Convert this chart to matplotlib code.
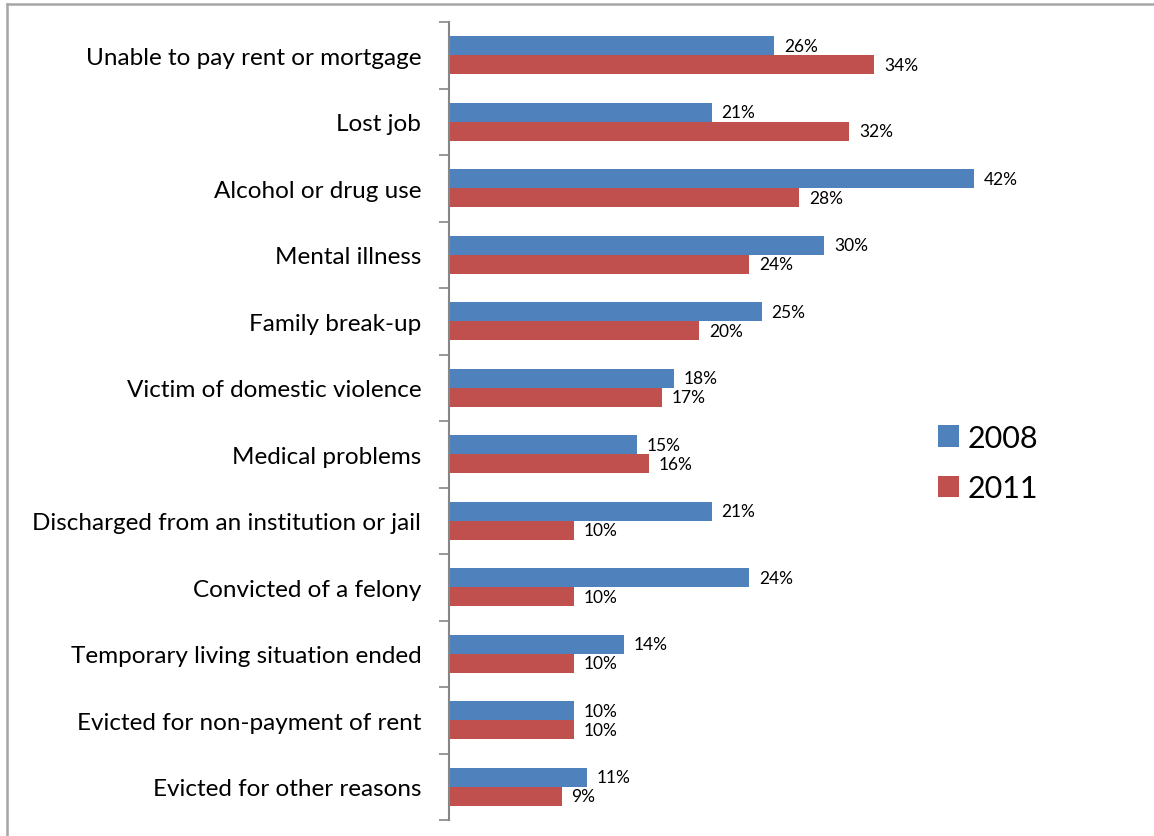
import numpy as np
import matplotlib.pyplot as plt
from matplotlib.lines import Line2D

plt.rcParams['font.family'] = ['Lato', 'DejaVu Sans']

# ------------------------------------------------------------
# DATA (percent of respondents)
# ------------------------------------------------------------

reasons = [
    "Unable to pay rent or mortgage",
    "Lost job",
    "Alcohol or drug use",
    "Mental illness",
    "Family break-up",
    "Victim of domestic violence",
    "Medical problems",
    "Discharged from an institution or jail",
    "Convicted of a felony",
    "Temporary living situation ended",
    "Evicted for non-payment of rent",
    "Evicted for other reasons",
]

pct_2008 = [26, 21, 42, 30, 25, 18, 15, 21, 24, 14, 10, 11]
pct_2011 = [34, 32, 28, 24, 20, 17, 16, 10, 10, 10, 10, 9]

blue = "#4F81BD"
red = "#C0504D"

# ------------------------------------------------------------
# FIGURE
# ------------------------------------------------------------

W, H = 1154, 837
fig = plt.figure(figsize=(W / 100, H / 100), dpi=100)

# axes placed in pixel terms: left edge at x=449, rows from y=23 to y=821
x0, x1 = 449, 1012
y_top, y_bot = 23, 821
ax = fig.add_axes([x0 / W, (H - y_bot) / H, (x1 - x0) / W, (y_bot - y_top) / H])

n = len(reasons)
pos = np.arange(n)
bh = 0.285

ax.barh(pos - bh / 2, pct_2008, height=bh, color=blue, label="2008")
ax.barh(pos + bh / 2, pct_2011, height=bh, color=red, label="2011")

# value labels just right of each bar
for i in range(n):
    ax.annotate(f"{pct_2008[i]}%", (pct_2008[i], pos[i] - bh / 2),
                xytext=(10, 0), textcoords="offset pixels",
                va="center", ha="left", fontsize=12.5)
    ax.annotate(f"{pct_2011[i]}%", (pct_2011[i], pos[i] + bh / 2),
                xytext=(10, 0), textcoords="offset pixels",
                va="center", ha="left", fontsize=12.5)

ax.set_xlim(0, (x1 - x0) / 12.5)
ax.set_ylim(n - 0.5, -0.5)

ax.set_yticks(pos)
ax.set_yticklabels(reasons, fontsize=17.5)
ax.set_yticks(np.arange(n + 1) - 0.5, minor=True)
ax.tick_params(axis="y", which="major", length=0, pad=20)
ax.tick_params(axis="y", which="minor", length=7, width=1.2, color="#868686")
ax.set_xticks([])

for side in ["top", "right", "bottom"]:
    ax.spines[side].set_visible(False)
ax.spines["left"].set_color("#868686")
ax.spines["left"].set_linewidth(1.5)

# legend
leg = fig.legend(loc="center left", bbox_to_anchor=(910 / W, 1 - 464 / H),
                 frameon=False, fontsize=22, handlelength=0.7, handleheight=0.7,
                 handletextpad=0.3, labelspacing=0.75)

# outer frame (top and left edges only)
fig.add_artist(Line2D([7 / W, 1], [1 - 5 / H, 1 - 5 / H], color="#A6A6A6", lw=1.8,
                      transform=fig.transFigure))
fig.add_artist(Line2D([7 / W, 7 / W], [0, 1 - 5 / H], color="#A6A6A6", lw=1.8,
                      transform=fig.transFigure))

fig.savefig("out.png", dpi=100)
